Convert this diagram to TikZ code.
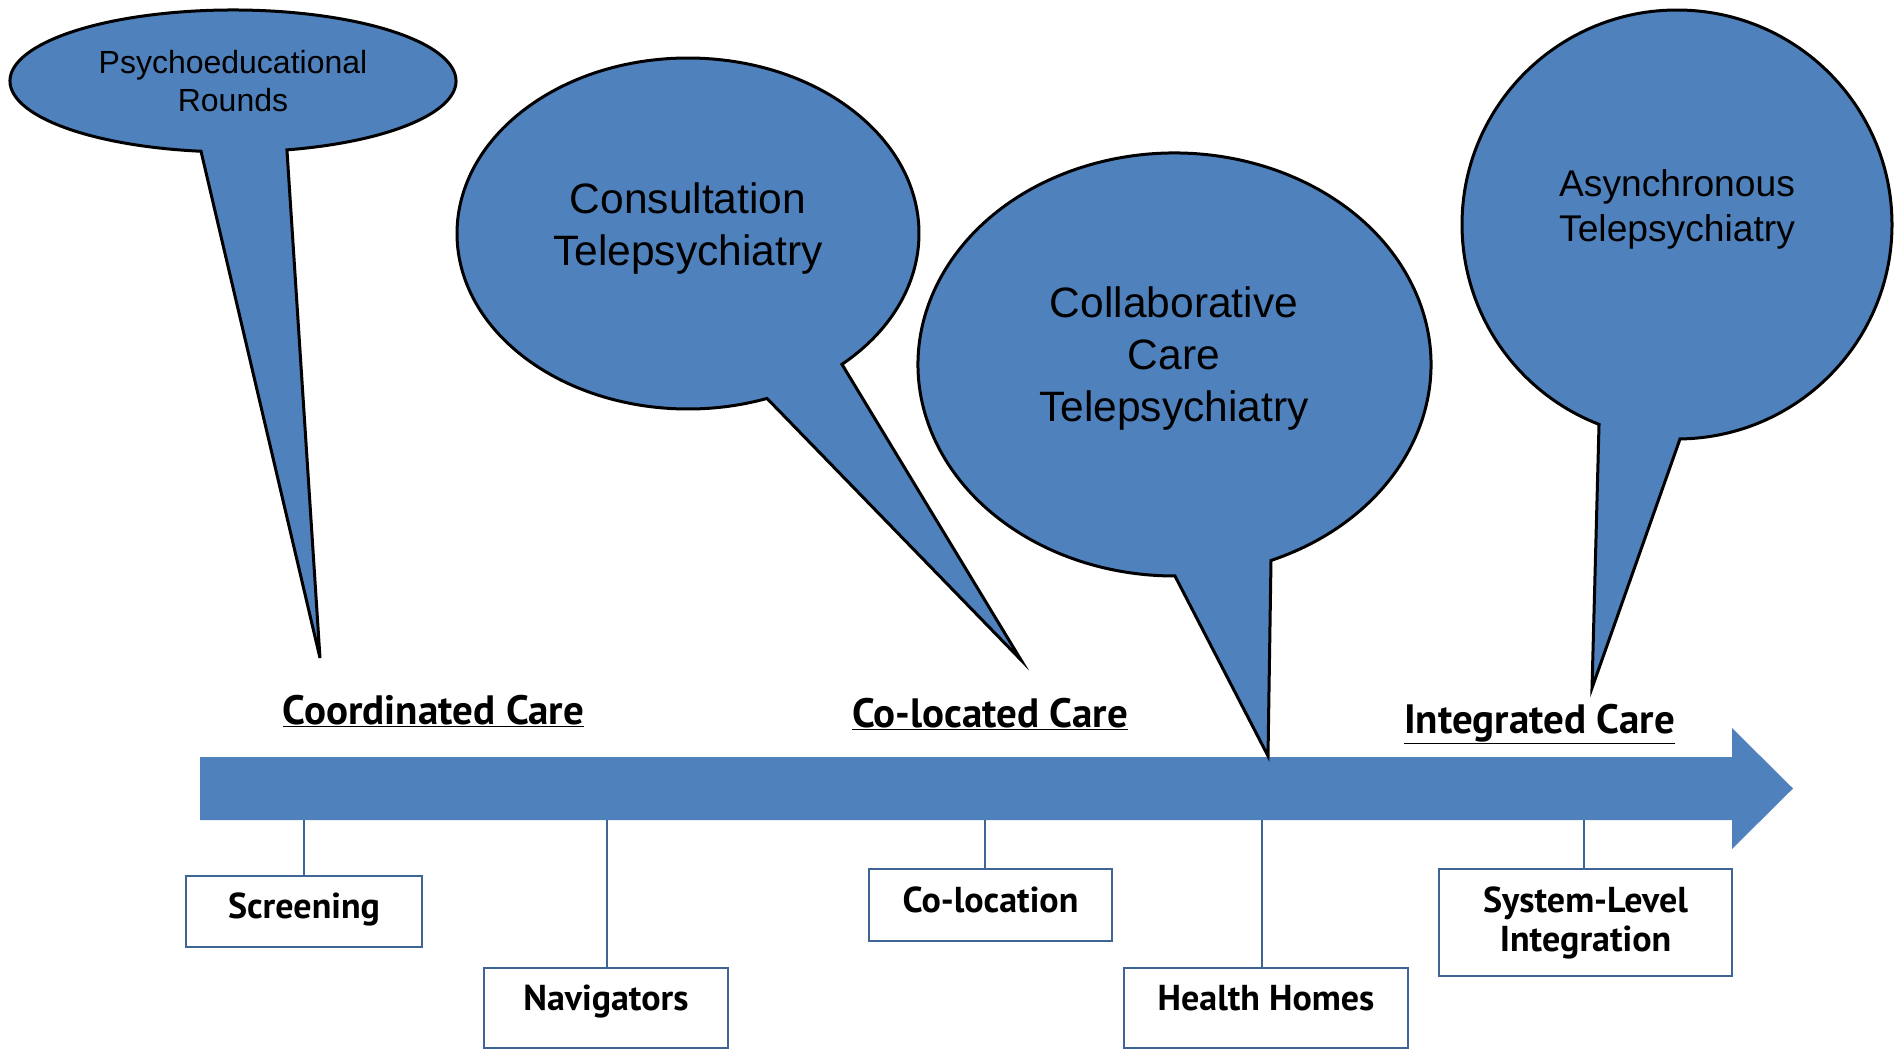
\documentclass[tikz,border=0pt]{standalone}
\usepackage{fontspec}
\setmainfont{Liberation Sans}
\newfontfamily\tlfont{PT Sans}
\definecolor{calloutblue}{HTML}{4F81BD}
\definecolor{boxblue}{HTML}{3F6496}
\begin{document}
\begin{tikzpicture}[x=1pt,y=1pt,
    callout/.style={draw=black,line width=3pt,fill=calloutblue,line join=miter},
    ctext/.style={inner sep=0pt,align=center},
    phase/.style={inner sep=0pt,anchor=base,font=\tlfont\bfseries\fontsize{41}{43}\selectfont},
    stage/.style={draw=boxblue,line width=2pt,fill=white,inner sep=0pt,align=center,
      font=\tlfont\bfseries\fontsize{36}{39}\selectfont},
    tick/.style={draw=boxblue,line width=2pt}]
  \useasboundingbox (0,0) rectangle (1902,1053);
  % timeline arrow
  \fill[calloutblue] (200,233) -- (1732,233) -- (1732,204) -- (1793,264.5)
    -- (1732,325) -- (1732,296) -- (200,296) -- cycle;
  % speech bubbles
  \coordinate (c1) at (233,972);
  \coordinate (c2) at (688,819.5);
  \coordinate (c3) at (1174.5,688.5);
  \coordinate (c4) at (1677,828.5);
  \coordinate (tip1) at (320,395);
  \coordinate (tip2) at (1021,393);
  \coordinate (tip3) at (1268,297);
  \coordinate (tip4) at (1592,365);
  \draw[callout] (c1) ++(284:223 and 71)
    arc[start angle=284,end angle=621.75,x radius=223,y radius=71] -- (tip1) -- cycle;
  \draw[callout] (c2) ++(311.8:231 and 175.5)
    arc[start angle=311.8,end angle=650,x radius=231,y radius=175.5] -- (tip2) -- cycle;
  \draw[callout] (c3) ++(292.1:256.5 and 211.5)
    arc[start angle=292.1,end angle=630.1,x radius=256.5,y radius=211.5] -- (tip3) -- cycle;
  \draw[callout] (c4) ++(270.8:215 and 214.5)
    arc[start angle=270.8,end angle=608.73,x radius=215,y radius=214.5] -- (tip4) -- cycle;
  \node[ctext,font=\fontsize{32}{38}\selectfont] (psy) at (233,972) {Psychoeducational\\Rounds};
  \node[ctext,font=\fontsize{42.5}{52}\selectfont] (cons) at (688,824.5) {Consultation\\Telepsychiatry};
  \node[ctext,font=\fontsize{42.5}{52}\selectfont] (collab) at (1174,694) {Collaborative\\Care\\Telepsychiatry};
  \node[ctext,font=\fontsize{37.2}{45}\selectfont] (async) at (1677,844) {Asynchronous\\Telepsychiatry};
  % phases
  \node[phase] (coord) at (433.5,329) {\underline{Coordinated Care}};
  \node[phase] (coloc) at (990,326) {\underline{Co-located Care}};
  \node[phase] (integ) at (1539.5,320) {\underline{Integrated Care}};
  % stages below the arrow
  \node[stage,minimum width=236,minimum height=71,text depth=11] (scr) at (304,141.5) {Screening};
  \node[stage,minimum width=244,minimum height=80,text depth=20] (nav) at (606,45) {Navigators};
  \node[stage,minimum width=243,minimum height=72,text depth=11] (colocbox) at (990.5,148) {Co-location};
  \node[stage,minimum width=284,minimum height=80,text depth=20] (hh) at (1266,45) {Health Homes};
  \node[stage,minimum width=293,minimum height=107] (sys) at (1585.5,130.5) {System-Level\\Integration};
  \coordinate (t1) at (304,233);
  \coordinate (t2) at (607,233);
  \coordinate (t3) at (985,233);
  \coordinate (t4) at (1262,233);
  \coordinate (t5) at (1584,233);
  \draw[tick] (t1) -- (t1 |- scr.north);
  \draw[tick] (t2) -- (t2 |- nav.north);
  \draw[tick] (t3) -- (t3 |- colocbox.north);
  \draw[tick] (t4) -- (t4 |- hh.north);
  \draw[tick] (t5) -- (t5 |- sys.north);
\end{tikzpicture}
\end{document}
